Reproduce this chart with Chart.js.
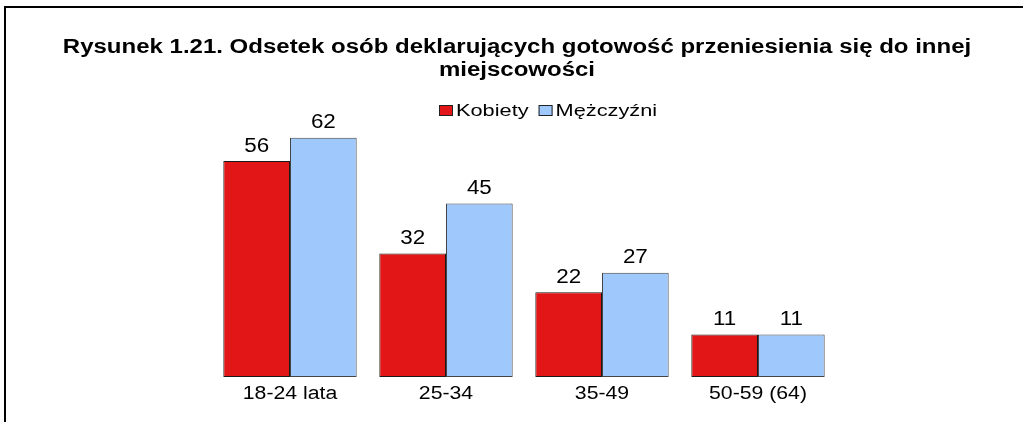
<!DOCTYPE html>
<html>
<head>
<meta charset="utf-8">
<script src="https://cdn.jsdelivr.net/npm/chart.js@4"></script>
<style>
  html, body { margin: 0; padding: 0; background: #fff; }
  canvas { display: block; }
</style>
</head>
<body>
<canvas id="chart" width="1023" height="422"></canvas>
<script>
// data
const categories = ["18-24 lata", "25-34", "35-49", "50-59 (64)"];
const seriesNames = ["Kobiety", "Mężczyźni"];
const kobiety = [56, 32, 22, 11];
const mezczyzni = [62, 45, 27, 11];
const titleLines = [
    "Rysunek 1.21. Odsetek osób deklarujących gotowość przeniesienia się do innej",
    "miejscowości"
];

const red = "#e21616";
const blue = "#9fc8fc";
const fontFamily = "'Liberation Sans', Arial, sans-serif";

// the original picture's text is a bit stretched sideways
function wideText(ctx, text, x, y, sx) {
    ctx.save();
    ctx.translate(x, y);
    ctx.scale(sx, 1);
    ctx.fillText(text, 0, 0);
    ctx.restore();
}

// frame, title, legend, category and value labels
const decorations = {
    id: "decorations",
    afterDraw(chart) {
        const ctx = chart.ctx;
        const area = chart.chartArea;
        ctx.save();

        // frame (only top and left edges are inside the picture)
        ctx.fillStyle = "#000";
        ctx.fillRect(4, 6, 1019, 2);
        ctx.fillRect(4, 6, 2, 416);

        // title
        ctx.font = "bold 20px " + fontFamily;
        ctx.textAlign = "center";
        ctx.textBaseline = "middle";
        wideText(ctx, titleLines[0], 517, 47, 1.2);
        wideText(ctx, titleLines[1], 517, 70, 1.2);

        // legend
        const legendScale = 1.28;
        ctx.font = "17px " + fontFamily;
        ctx.textAlign = "left";
        const colors = [red, blue];
        const boxW = 14, boxH = 11, gap = 3, spacing = 10;
        let total = 0;
        seriesNames.forEach(function(name, i){
            total += boxW + gap + ctx.measureText(name).width * legendScale;
            if (i < seriesNames.length - 1) total += spacing;
        });
        let x = Math.round(548 - total / 2);
        const ly = 110;
        seriesNames.forEach(function(name, i){
            ctx.fillStyle = colors[i];
            ctx.fillRect(x, ly - 5, boxW, boxH);
            ctx.strokeStyle = "#222";
            ctx.lineWidth = 1;
            ctx.strokeRect(x + 0.5, ly - 5 + 0.5, boxW - 1, boxH - 1);
            x += boxW + gap;
            ctx.fillStyle = "#000";
            wideText(ctx, name, x, ly + 1, legendScale);
            x += ctx.measureText(name).width * legendScale + spacing;
        });

        // category labels under the bars
        const xScale = chart.scales.x;
        ctx.font = "18px " + fontFamily;
        ctx.textAlign = "center";
        ctx.fillStyle = "#000";
        categories.forEach(function(label, i){
            wideText(ctx, label, xScale.getPixelForValue(i), area.bottom + 17, 1.18);
        });

        // values above bars
        ctx.font = "20px " + fontFamily;
        ctx.textAlign = "center";
        ctx.textBaseline = "bottom";
        chart.data.datasets.forEach(function(ds, di){
            chart.getDatasetMeta(di).data.forEach(function(bar, i){
                wideText(ctx, String(ds.data[i]), bar.x, bar.y - 5, 1.12);
            });
        });

        ctx.restore();
    }
};

new Chart(document.getElementById("chart"), {
    type: "bar",
    data: {
        labels: categories,
        datasets: [{
            label: seriesNames[0],
            data: kobiety,
            backgroundColor: red,
            borderColor: "#1a1a1a",
            borderWidth: 1,
            borderSkipped: false
        }, {
            label: seriesNames[1],
            data: mezczyzni,
            backgroundColor: blue,
            borderColor: "#444",
            borderWidth: 1,
            borderSkipped: false
        }]
    },
    options: {
        responsive: false,
        animation: false,
        layout: {
            padding: { left: 212, right: 187, top: 107, bottom: 45 }
        },
        datasets: {
            bar: { categoryPercentage: 0.855, barPercentage: 1 }
        },
        scales: {
            x: {
                grid: { display: false, drawTicks: false },
                border: { display: false },
                ticks: { display: false }
            },
            y: {
                display: false,
                min: 0,
                max: 70
            }
        },
        plugins: {
            legend: { display: false },
            title: { display: false },
            tooltip: { enabled: false }
        }
    },
    plugins: [decorations]
});
</script>
</body>
</html>
